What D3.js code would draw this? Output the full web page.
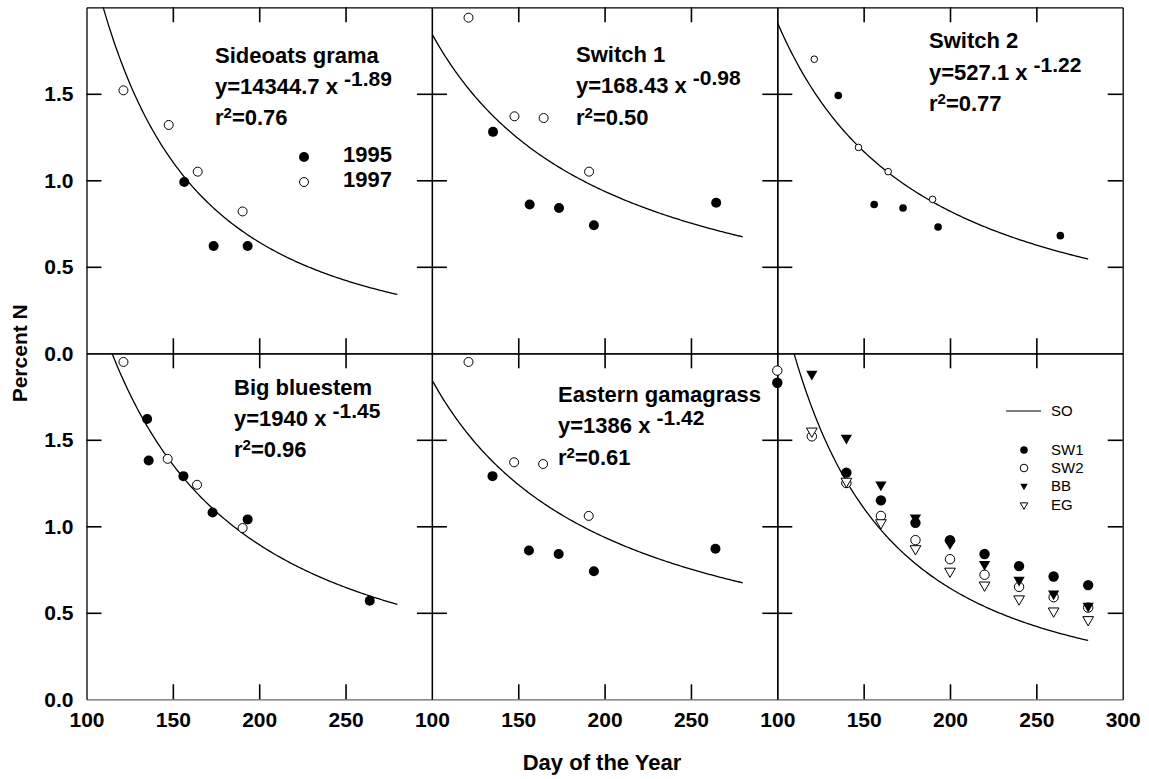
<!DOCTYPE html>
<html>
<head>
<meta charset="utf-8">
<script src="https://cdn.jsdelivr.net/npm/d3@7"></script>
<style>
body { margin: 0; background: #fff; }
text { font-family: "Liberation Sans", Arial, sans-serif; fill: #000; }
</style>
</head>
<body>
<div id="chart-area"></div>
<script>
// ---- data (day of year, percent N) ----
var soDay95 = [156.6, 173.6, 193.3];
var soN95   = [0.99, 0.62, 0.62];
var soDay97 = [121.4, 147.6, 164.4, 190.4];
var soN97   = [1.52, 1.32, 1.05, 0.82];

var sw1Day95 = [135.4, 156.6, 173.6, 193.8, 264.6];
var sw1N95   = [1.28, 0.86, 0.84, 0.74, 0.87];
var sw1Day97 = [121.2, 147.8, 164.7, 191.0];
var sw1N97   = [1.94, 1.37, 1.36, 1.05];

var sw2Day95 = [135.3, 156.1, 172.8, 193.1, 263.9];
var sw2N95   = [1.49, 0.86, 0.84, 0.73, 0.68];
var sw2Day97 = [121.4, 147.0, 164.2, 189.9];
var sw2N97   = [1.70, 1.19, 1.05, 0.89];

var bbDay95 = [135.1, 136.0, 156.1, 173.0, 193.3, 264.0];
var bbN95   = [1.62, 1.38, 1.29, 1.08, 1.04, 0.57];
var bbDay97 = [121.4, 147.0, 164.0, 190.4];
var bbN97   = [1.95, 1.39, 1.24, 0.99];

var egDay95 = [135.1, 156.2, 173.4, 193.8, 264.2];
var egN95   = [1.29, 0.86, 0.84, 0.74, 0.87];
var egDay97 = [121.2, 147.6, 164.4, 190.8];
var egN97   = [1.95, 1.37, 1.36, 1.06];

// predicted values, last panel
var predSW1Day = [100, 140, 160, 180, 200, 220, 240, 260, 280];
var predSW1N   = [1.83, 1.31, 1.15, 1.02, 0.92, 0.84, 0.77, 0.71, 0.66];
var predSW2Day = [100, 120, 140, 160, 180, 200, 220, 240, 260, 280];
var predSW2N   = [1.90, 1.52, 1.25, 1.06, 0.92, 0.81, 0.72, 0.65, 0.59, 0.53];
var predBBDay  = [120, 140, 160, 180, 200, 220, 240, 260, 280];
var predBBN    = [1.88, 1.51, 1.24, 1.05, 0.90, 0.78, 0.69, 0.61, 0.54];
var predEGDay  = [120, 140, 160, 180, 200, 220, 240, 260, 280];
var predEGN    = [1.55, 1.26, 1.02, 0.87, 0.74, 0.66, 0.58, 0.51, 0.46];

// fitted power curves y = a x^b as printed
var fitNames = ["Sideoats grama", "Switch 1", "Switch 2", "Big bluestem", "Eastern gamagrass"];
var fitA  = [14344.7, 168.43, 527.1, 1940, 1386];
var fitB  = ["-1.89", "-0.98", "-1.22", "-1.45", "-1.42"];
var fitR2 = ["0.76", "0.50", "0.77", "0.96", "0.61"];
// the gamagrass panel of the original reuses the Switch 1 curve
var curveOf = [0, 1, 2, 3, 1];

var xTicks = [150, 200, 250];
var yTicks = [0.5, 1.0, 1.5];
var xLabels = [100, 150, 200, 250];
var yLabels = [0.0, 0.5, 1.0, 1.5];
var legendSeries = ["SW1", "SW2", "BB", "EG"];

// ---- layout ----
var width = 1149, height = 779;
var left0 = 86.5, top0 = 7.3, panelW = 345.4, panelH = 346;
var tickLen = 15;

var svg = d3.select("#chart-area").append("svg")
	.attr("width", width)
	.attr("height", height);

function xScale(col) {
	return d3.scaleLinear().domain([100, 300]).range([left0 + col * panelW, left0 + (col + 1) * panelW]);
}
function yScale(row) {
	return d3.scaleLinear().domain([0, 2]).range([top0 + (row + 1) * panelH, top0 + row * panelH]);
}

var panels = [
	{col: 0, row: 0, fit: 0, d95: soDay95, n95: soN95, d97: soDay97, n97: soN97, r: 5, tx: 215, ty: [63, 94, 125]},
	{col: 1, row: 0, fit: 1, d95: sw1Day95, n95: sw1N95, d97: sw1Day97, n97: sw1N97, r: 5, tx: 576, ty: [62, 93, 125]},
	{col: 2, row: 0, fit: 2, d95: sw2Day95, n95: sw2N95, d97: sw2Day97, n97: sw2N97, r: 3.8, tx: 929, ty: [48, 80, 111]},
	{col: 0, row: 1, fit: 3, d95: bbDay95, n95: bbN95, d97: bbDay97, n97: bbN97, r: 5, tx: 234, ty: [395, 426, 457]},
	{col: 1, row: 1, fit: 4, d95: egDay95, n95: egN95, d97: egDay97, n97: egN97, r: 5, tx: 558, ty: [402, 433, 465]},
	{col: 2, row: 1, fit: -1}
];

var curveDays = d3.range(100, 280.5, 1);

function drawFrame(col, row) {
	var x = xScale(col), y = yScale(row);
	var frameColor = "#000";
	var bottom = svg.append("g").attr("class", "frame")
		.attr("transform", "translate(0," + y(0) + ")")
		.call(d3.axisBottom(x).tickValues(xTicks).tickSize(-tickLen).tickSizeOuter(0).tickFormat(""));
	if (row === 1) bottom.select(".domain").attr("stroke", "#666");
	svg.append("g").attr("class", "frame")
		.attr("transform", "translate(0," + y(2) + ")")
		.call(d3.axisTop(x).tickValues(xTicks).tickSize(-tickLen).tickSizeOuter(0).tickFormat(""));
	svg.append("g").attr("class", "frame")
		.attr("transform", "translate(" + x(100) + ",0)")
		.call(d3.axisLeft(y).tickValues(yTicks).tickSize(-tickLen).tickSizeOuter(0).tickFormat(""));
	svg.append("g").attr("class", "frame")
		.attr("transform", "translate(" + x(300) + ",0)")
		.call(d3.axisRight(y).tickValues(yTicks).tickSize(-tickLen).tickSizeOuter(0).tickFormat(""));
}

function drawCurve(col, row, a, b) {
	var x = xScale(col), y = yScale(row);
	var id = "clip" + col + row;
	svg.append("clipPath").attr("id", id)
		.append("rect")
		.attr("x", x(100)).attr("y", y(2))
		.attr("width", panelW).attr("height", panelH);
	var line = d3.line()
		.x(function (d) { return x(d); })
		.y(function (d) { return y(a * Math.pow(d, b)); });
	svg.append("path")
		.datum(curveDays)
		.attr("clip-path", "url(#" + id + ")")
		.attr("d", line)
		.attr("fill", "none")
		.attr("stroke", "#000")
		.attr("stroke-width", 1.3);
}

function drawDots(col, row, days, vals, r, filled) {
	var x = xScale(col), y = yScale(row);
	svg.append("g").selectAll("circle")
		.data(d3.zip(days, vals))
		.enter()
		.append("circle")
		.attr("cx", function (d) { return x(d[0]); })
		.attr("cy", function (d) { return y(d[1]); })
		.attr("r", filled ? r : r - 0.5)
		.attr("fill", filled ? "#000" : "#fff")
		.attr("stroke", "#000")
		.attr("stroke-width", filled ? 0 : 1);
}

function drawTriangles(col, row, days, vals, size, filled) {
	var x = xScale(col), y = yScale(row);
	var sym = d3.symbol().type(d3.symbolTriangle).size(size);
	svg.append("g").selectAll("path")
		.data(d3.zip(days, vals))
		.enter()
		.append("path")
		.attr("d", sym)
		.attr("transform", function (d) { return "translate(" + x(d[0]) + "," + y(d[1]) + ") rotate(180)"; })
		.attr("fill", filled ? "#000" : "#fff")
		.attr("stroke", "#000")
		.attr("stroke-width", filled ? 0 : 1);
}

function drawLabel(p) {
	var f = p.fit;
	var g = svg.append("g").attr("font-weight", "bold").attr("font-size", "22px");
	g.append("text").attr("x", p.tx).attr("y", p.ty[0]).text(fitNames[f]);
	var eq = g.append("text").attr("x", p.tx).attr("y", p.ty[1]);
	eq.append("tspan").text("y=" + fitA[f] + " x ");
	eq.append("tspan").attr("dy", -8).attr("font-size", "21px").text(fitB[f]);
	var r2 = g.append("text").attr("x", p.tx).attr("y", p.ty[2]);
	r2.append("tspan").text("r");
	r2.append("tspan").attr("dy", -7).attr("font-size", "15px").text("2");
	r2.append("tspan").attr("dy", 7).text("=" + fitR2[f]);
}

panels.forEach(function (p) {
	drawFrame(p.col, p.row);
	if (p.fit >= 0) {
		var c = curveOf[p.fit];
		drawCurve(p.col, p.row, fitA[c], +fitB[c]);
		drawDots(p.col, p.row, p.d97, p.n97, p.r, false);
		drawDots(p.col, p.row, p.d95, p.n95, p.r, true);
		drawLabel(p);
	}
});

// combined panel: SO curve plus predicted values
drawCurve(2, 1, fitA[0], +fitB[0]);
drawDots(2, 1, predSW1Day, predSW1N, 5.2, true);
drawDots(2, 1, predSW2Day, predSW2N, 5.2, false);
drawTriangles(2, 1, predBBDay, predBBN, 55, true);
drawTriangles(2, 1, predEGDay, predEGN, 50, false);

// legend, first panel
var lx = xScale(0), ly = yScale(0);
svg.append("circle").attr("cx", 304).attr("cy", 157).attr("r", 5).attr("fill", "#000");
svg.append("circle").attr("cx", 304).attr("cy", 182).attr("r", 4.5).attr("fill", "#fff").attr("stroke", "#000");
svg.append("text").attr("x", 343).attr("y", 162).attr("font-weight", "bold").attr("font-size", "22px").text("1995");
svg.append("text").attr("x", 343).attr("y", 187).attr("font-weight", "bold").attr("font-size", "22px").text("1997");

// legend, last panel
var leg = svg.append("g").attr("font-size", "15px");
leg.append("line").attr("x1", 1006).attr("x2", 1041).attr("y1", 411).attr("y2", 411)
	.attr("stroke", "#000").attr("stroke-width", 1.2);
leg.append("text").attr("x", 1051).attr("y", 416).text("SO");
var legY = [450, 468, 486, 505];
legendSeries.forEach(function (name, i) {
	leg.append("text").attr("x", 1051).attr("y", legY[i] + 5).text(name);
	if (i < 2) {
		leg.append("circle").attr("cx", 1024).attr("cy", legY[i]).attr("r", 3.8)
			.attr("fill", i === 0 ? "#000" : "#fff").attr("stroke", "#000").attr("stroke-width", i === 0 ? 0 : 1);
	} else {
		leg.append("path").attr("d", d3.symbol().type(d3.symbolTriangle).size(24))
			.attr("transform", "translate(1024," + legY[i] + ") rotate(180)")
			.attr("fill", i === 2 ? "#000" : "#fff").attr("stroke", "#000").attr("stroke-width", i === 2 ? 0 : 1);
	}
});

// tick labels
[0, 1, 2].forEach(function (col) {
	var vals = col === 2 ? xLabels.concat([300]) : xLabels;
	svg.append("g").attr("class", "lab")
		.attr("transform", "translate(0," + yScale(1)(0) + ")")
		.call(d3.axisBottom(xScale(col)).tickValues(vals).tickSize(0).tickPadding(13));
});
[0, 1].forEach(function (row) {
	svg.append("g").attr("class", "lab")
		.attr("transform", "translate(" + xScale(0)(100) + ",0)")
		.call(d3.axisLeft(yScale(row)).tickValues(yLabels).tickSize(0).tickPadding(13).tickFormat(d3.format(".1f")));
});
svg.selectAll(".lab .domain").remove();
svg.selectAll(".lab text")
	.attr("font-family", "'Liberation Sans', Arial, sans-serif")
	.attr("font-weight", "bold")
	.attr("font-size", "21px")
	.attr("fill", "#000");

svg.selectAll(".frame .domain").attr("stroke-width", 1.3);
svg.selectAll(".frame line").attr("stroke", "#000").attr("stroke-width", 1.6);

// axis titles
svg.append("text")
	.attr("transform", "translate(27," + (top0 + panelH) + ") rotate(-90)")
	.attr("text-anchor", "middle")
	.attr("font-weight", "bold")
	.attr("font-size", "21px")
	.text("Percent N");
svg.append("text")
	.attr("x", 602)
	.attr("y", 770)
	.attr("text-anchor", "middle")
	.attr("font-weight", "bold")
	.attr("font-size", "22px")
	.text("Day of the Year");
</script>
</body>
</html>
